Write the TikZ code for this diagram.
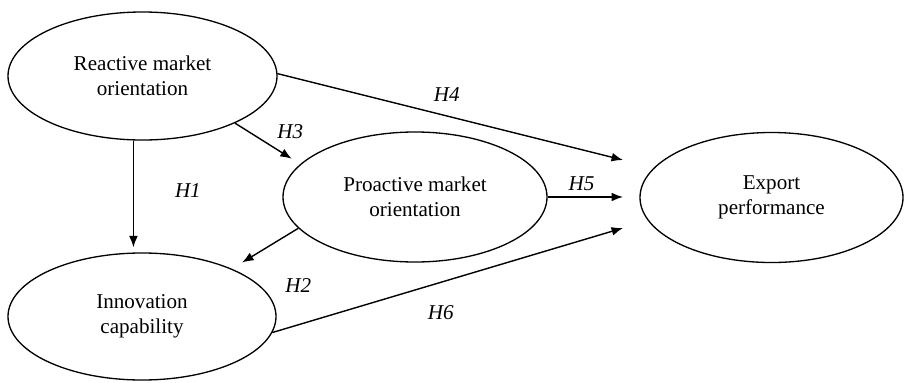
\documentclass[tikz,border=0pt]{standalone}
\usepackage{fontspec}
\setmainfont{Liberation Serif}
\usetikzlibrary{shapes.geometric,arrows.meta}

\tikzset{
  construct/.style={draw, ellipse, line width=0.75pt, inner sep=0pt, align=center,
    font=\fontsize{12}{14}\selectfont},
  link/.style={-{Latex[length=6.5pt,width=5pt]}, line width=0.8pt},
  hyp/.style={font=\fontsize{12}{14}\selectfont\itshape}
}

\begin{document}
\begin{tikzpicture}
  \useasboundingbox (0,0) rectangle (18.1,7.64);

  \node[construct, minimum width=5.38cm, minimum height=2.56cm] (reactive) at (2.85,6.12) {Reactive market\\orientation};
  \node[construct, minimum width=5.36cm, minimum height=2.54cm] (innovation) at (2.84,1.31) {Innovation\\capability};
  \node[construct, minimum width=5.28cm, minimum height=2.60cm] (proactive) at (8.30,3.70) {Proactive market\\orientation};
  \node[construct, minimum width=5.26cm, minimum height=2.60cm] (export) at (15.43,3.69) {Export\\performance};

  % arrow ends in front of export performance
  \coordinate (e4) at (12.46,4.44);
  \coordinate (e5) at (12.46,3.70);
  \coordinate (e6) at (12.46,3.08);

  \draw[link, shorten >=0.1cm] (reactive.-98) to node[pos=0.45, right=0.7cm, hyp] {H1} (reactive.-98 |- innovation.north);
  \draw[link, shorten >=0.24cm] (proactive.195) to node[pos=0, below=0.88cm, hyp] {H2} (innovation.28);
  \draw[link, shorten >=0.2cm] (reactive.-27) to node[pos=0.55, above right, hyp] {H3} (proactive.164);
  \draw[link] (reactive.1) to node[pos=0.49, above=0.16cm, hyp] {H4} (e4);
  \draw[link] (proactive.east) to node[pos=0.45, above, hyp] {H5} (e5);
  \draw[link] (innovation.-7) to node[pos=0.48, below=0.34cm, hyp] {H6} (e6);
\end{tikzpicture}
\end{document}
